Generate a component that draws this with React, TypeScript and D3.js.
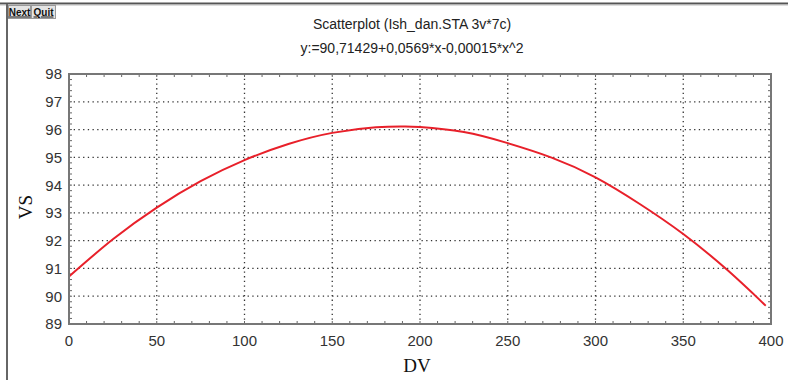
import React from 'react';
import * as d3 from 'd3';

// values
const dvValues = [0, 25, 50, 75, 100, 125, 150, 175, 190, 200, 225, 250, 275, 300, 325, 350, 375, 397];
const vsValues = [90.71, 92.05, 93.19, 94.14, 94.90, 95.48, 95.88, 96.08, 96.11, 96.09, 95.91, 95.51, 94.99, 94.28, 93.33, 92.24, 90.95, 89.66];

const xTicks = [0, 50, 100, 150, 200, 250, 300, 350, 400];
const yTicks = [89, 90, 91, 92, 93, 94, 95, 96, 97, 98];

const title = 'Scatterplot (Ish_dan.STA 3v*7c)';
const subtitle = 'y:=90,71429+0,0569*x-0,00015*x^2';

const W = 788;
const H = 380;
const plot = { left: 69, right: 771, top: 74, bottom: 324 };

export default function App() {
  const x = d3.scaleLinear().domain([0, 400]).range([plot.left, plot.right]);
  const y = d3.scaleLinear().domain([89, 98]).range([plot.bottom, plot.top]);

  const points = dvValues.map((d, i) => [d, vsValues[i]] as [number, number]);
  const line = d3
    .line<[number, number]>()
    .x(d => x(d[0]))
    .y(d => y(d[1]))
    .curve(d3.curveNatural);

  const xMinor = d3.range(0, 401, 10);
  const yMinor = d3.range(89, 98.01, 0.2);

  return (
    <div style={{ position: 'fixed', left: 0, top: 0, width: W, height: H, background: '#fff' }}>
      <svg width={W} height={H} style={{ display: 'block' }}>
        {/* window frame */}
        <line x1={0} x2={W} y1={3.5} y2={3.5} stroke="#555" strokeWidth={2} />
        <line x1={0} x2={W} y1={5} y2={5} stroke="#bbb" strokeWidth={1} />
        <line x1={7} x2={7} y1={4} y2={H} stroke="#666" strokeWidth={2} />

        {/* buttons */}
        <g fontFamily="Liberation Sans, Arial, sans-serif" fontSize={10} fontWeight="bold">
          <rect x={8.5} y={5.5} width={22} height={13} fill="#e4e4e4" stroke="#999" />
          <text x={19.5} y={15.5} textAnchor="middle" fill="#111" textDecoration="underline">Next</text>
          <rect x={31.5} y={5.5} width={24} height={13} fill="#e4e4e4" stroke="#999" />
          <text x={43.5} y={15.5} textAnchor="middle" fill="#111" textDecoration="underline">Quit</text>
        </g>

        {/* titles */}
        <g fontFamily="Liberation Sans, Arial, sans-serif" fontSize={14} fill="#222" textAnchor="middle">
          <text x={412} y={29}>{title}</text>
          <text x={412} y={53}>{subtitle}</text>
        </g>

        {/* grid */}
        <g stroke="#333" strokeWidth={1.3} strokeDasharray="1.3,3.4">
          {yTicks.slice(1, -1).map(t => (
            <line key={'gy' + t} x1={plot.left} x2={plot.right} y1={y(t)} y2={y(t)} />
          ))}
          {xTicks.slice(1, -1).map(t => (
            <line key={'gx' + t} x1={x(t)} x2={x(t)} y1={plot.top} y2={plot.bottom} />
          ))}
        </g>

        {/* minor ticks */}
        <g stroke="#666" strokeWidth={1}>
          {xMinor.map(t => (
            <g key={'mx' + t}>
              <line x1={x(t)} x2={x(t)} y1={plot.bottom} y2={plot.bottom - 3} />
              <line x1={x(t)} x2={x(t)} y1={plot.top} y2={plot.top + 3} />
            </g>
          ))}
          {yMinor.map(t => (
            <g key={'my' + t.toFixed(1)}>
              <line x1={plot.left} x2={plot.left + 3} y1={y(t)} y2={y(t)} />
              <line x1={plot.right} x2={plot.right - 3} y1={y(t)} y2={y(t)} />
            </g>
          ))}
        </g>

        {/* curve */}
        <path d={line(points) ?? ''} fill="none" stroke="#e8202a" strokeWidth={2} />

        {/* plot frame */}
        <rect
          x={plot.left}
          y={plot.top}
          width={plot.right - plot.left}
          height={plot.bottom - plot.top}
          fill="none"
          stroke="#777"
          strokeWidth={2}
        />

        {/* tick labels */}
        <g fontFamily="Liberation Sans, Arial, sans-serif" fontSize={15} fill="#333">
          {yTicks.map(t => (
            <text key={'yl' + t} x={62} y={y(t)} dy="0.36em" textAnchor="end">{t}</text>
          ))}
          {xTicks.map(t => (
            <text key={'xl' + t} x={x(t)} y={346} textAnchor="middle">{t}</text>
          ))}
        </g>

        {/* axis titles */}
        <g fontFamily="Liberation Serif, Times New Roman, serif" fontSize={19} fill="#111">
          <text x={417} y={372} textAnchor="middle">DV</text>
          <text transform="translate(32,207) rotate(-90)" textAnchor="middle">VS</text>
        </g>
      </svg>
    </div>
  );
}
